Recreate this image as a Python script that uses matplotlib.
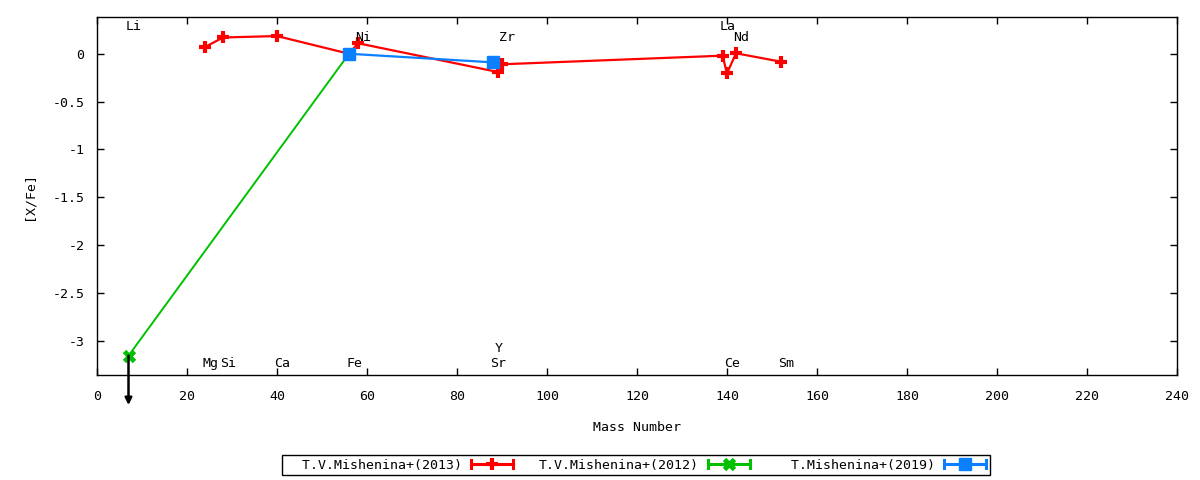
import matplotlib
matplotlib.use("Agg")
import matplotlib.pyplot as plt
from matplotlib.lines import Line2D
from matplotlib.legend_handler import HandlerBase
from matplotlib.ticker import FuncFormatter

plt.rcParams['font.family'] = ['DejaVu Sans Mono', 'DejaVu Sans']
plt.rcParams['axes.unicode_minus'] = False
FS = 9.5

# ---- data ----
red_label = "T.V.Mishenina+(2013)"
red_mass = [24, 28, 40, 56, 58, 89, 90, 139, 140, 142, 152]
red_xfe = [0.07, 0.17, 0.185, 0.0, 0.11, -0.19, -0.11, -0.02, -0.205, 0.005, -0.083]

green_label = "T.V.Mishenina+(2012)"
green_mass = [7, 56]
green_xfe = [-3.155, 0.0]

blue_label = "T.Mishenina+(2019)"
blue_mass = [56, 88]
blue_xfe = [0.0, -0.09]

# upper limit arrow (Li)
limit_mass = 7
limit_from = -3.155
limit_to = -3.67

# element labels: name, mass, label y-position
elem_names = ["Li", "La", "Ni", "Zr", "Nd", "Mg", "Si", "Ca", "Fe", "Sr", "Ce", "Sm", "Y"]
elem_mass = [7, 139, 58, 90, 142, 24, 28, 40, 56, 88, 140, 152, 89]
elem_ypos = [0.28, 0.28, 0.175, 0.175, 0.175, -3.234, -3.234, -3.234, -3.234, -3.234, -3.234, -3.234, -3.084]

x_ticks = list(range(0, 241, 20))
y_ticks = [0, -0.5, -1, -1.5, -2, -2.5, -3]

RED = '#ff0000'
GREEN = '#00c000'
BLUE = '#0a80ff'

fig = plt.figure(figsize=(12, 4.8), dpi=100)
ax = fig.add_axes([97/1200, 1 - 375/480, (1177 - 97)/1200, (375 - 17)/480])

l_red, = ax.plot(red_mass, red_xfe, color=RED, lw=1.6, marker='+', ms=9, mew=3, zorder=3)
l_green, = ax.plot(green_mass, green_xfe, color=GREEN, lw=1.4, marker='x', ms=7, mew=3.5, zorder=4)
l_blue, = ax.plot(blue_mass, blue_xfe, color=BLUE, lw=1.6, marker='s', ms=8.5, zorder=5)

ax.annotate('', xy=(limit_mass, limit_to), xytext=(limit_mass, limit_from),
            arrowprops=dict(arrowstyle='-|>', color='black', lw=1.8, mutation_scale=10,
                            shrinkA=0, shrinkB=0),
            annotation_clip=False, zorder=6)

for name, m, yp in zip(elem_names, elem_mass, elem_ypos):
    ax.text(m - 0.6, yp, name, ha='left', va='center', fontsize=FS, color='black', zorder=7)

ax.set_xlim(0, 240)
ax.set_ylim(-3.356, 0.384)
ax.set_xticks(x_ticks)
ax.set_yticks(y_ticks)
ax.yaxis.set_major_formatter(FuncFormatter(lambda v, p: '%g' % v))
ax.tick_params(direction='in', length=5, width=1, top=True, right=True,
               labelsize=FS, pad=9)
ax.tick_params(axis='x', pad=11)
for s in ax.spines.values():
    s.set_linewidth(1.0)

ax.set_xlabel('Mass Number', fontsize=FS, labelpad=13)
ax.set_ylabel('[X/Fe]', fontsize=FS, labelpad=12)


class CapLineHandler(HandlerBase):
    def create_artists(self, legend, orig_handle, xdescent, ydescent, width, height,
                       fontsize, trans):
        c = orig_handle.get_color()
        x0 = -xdescent
        x1 = x0 + width
        y = -ydescent + height / 2
        cap = height * 0.42
        arts = [
            Line2D([x0, x1], [y, y], color=c, lw=2.2),
            Line2D([x0, x0], [y - cap, y + cap], color=c, lw=2.2),
            Line2D([x1, x1], [y - cap, y + cap], color=c, lw=2.2),
            Line2D([(x0 + x1) / 2], [y], color=c, marker=orig_handle.get_marker(),
                   ms=orig_handle.get_markersize(), mew=orig_handle.get_markeredgewidth(),
                   lw=0),
        ]
        for a in arts:
            a.set_transform(trans)
        return arts


h = CapLineHandler()
leg = fig.legend([l_red, l_green, l_blue],
                 ["  " + red_label, green_label, "  " + blue_label],
                 loc='center', bbox_to_anchor=(636/1200, 1 - 465/480), ncol=3,
                 markerfirst=False, fontsize=FS, frameon=True, fancybox=False,
                 edgecolor='black', framealpha=1, handlelength=3.2, handleheight=0.8,
                 handletextpad=0.7, columnspacing=1.9, borderpad=0.25, borderaxespad=0,
                 handler_map={l_red: h, l_green: h, l_blue: h})
leg.get_frame().set_linewidth(1.0)

fig.savefig('out.png', dpi=100)
